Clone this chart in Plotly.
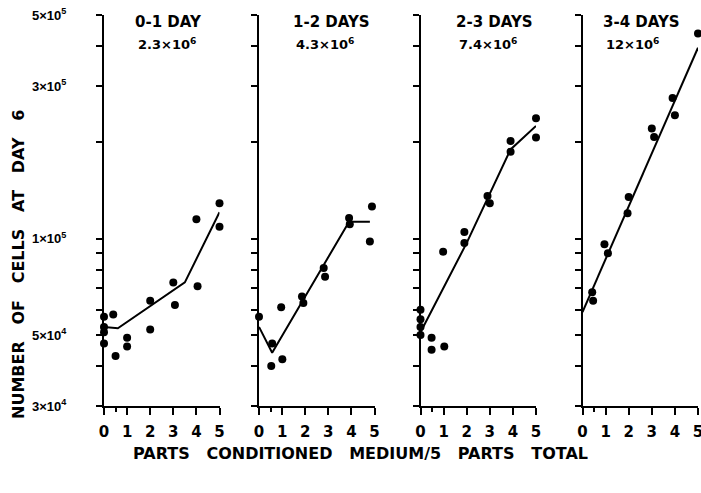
import math
import plotly.graph_objects as go

W, H = 701, 493

# ---- data ----
panel_titles = ["0-1 DAY", "1-2 DAYS", "2-3 DAYS", "3-4 DAYS"]
panel_counts = ["2.3×10<sup>6</sup>", "4.3×10<sup>6</sup>", "7.4×10<sup>6</sup>", "12×10<sup>6</sup>"]

p1_x = [0, 0, 0, 0, 0.4, 0.5, 1.0, 1.0, 2.0, 2.0, 3.0, 3.07, 4.0, 4.05, 5.0, 5.0]
p1_y = [5.7e4, 5.3e4, 5.1e4, 4.7e4, 5.8e4, 4.3e4, 4.9e4, 4.6e4, 6.4e4, 5.2e4, 7.3e4, 6.2e4, 1.15e5, 7.1e4, 1.29e5, 1.09e5]
p1_lx = [0, 0.6, 3.5, 5.0]
p1_ly = [5.3e4, 5.25e4, 7.3e4, 1.21e5]

p2_x = [0, 0.57, 0.53, 0.96, 1.01, 1.86, 1.92, 2.8, 2.86, 3.9, 3.93, 4.89, 4.8]
p2_y = [5.7e4, 4.7e4, 4.0e4, 6.1e4, 4.2e4, 6.6e4, 6.3e4, 8.1e4, 7.6e4, 1.16e5, 1.11e5, 1.26e5, 9.8e4]
p2_lx = [0, 0.57, 3.9, 4.8]
p2_ly = [5.3e4, 4.4e4, 1.13e5, 1.13e5]

p3_x = [0, 0, 0, 0, 0.48, 0.48, 1.03, 0.98, 1.9, 1.9, 2.9, 3.0, 3.9, 3.9, 5.0, 5.0]
p3_y = [6.0e4, 5.6e4, 5.3e4, 5.0e4, 4.9e4, 4.5e4, 4.6e4, 9.1e4, 1.05e5, 9.7e4, 1.36e5, 1.29e5, 2.02e5, 1.87e5, 2.38e5, 2.07e5]
p3_lx = [0, 2.0, 3.9, 5.0]
p3_ly = [5.1e4, 9.7e4, 1.9e5, 2.25e5]

p4_x = [0.42, 0.46, 0.95, 1.1, 1.95, 2.0, 3.0, 3.1, 3.9, 4.0, 5.0, 5.05]
p4_y = [6.8e4, 6.4e4, 9.6e4, 9.0e4, 1.2e5, 1.35e5, 2.21e5, 2.08e5, 2.75e5, 2.43e5, 4.38e5, 3.93e5]
p4_lx = [0, 5.0]
p4_ly = [5.9e4, 3.95e5]

y_tickvals = [3e4, 4e4, 5e4, 6e4, 7e4, 8e4, 9e4, 1e5, 2e5, 3e5, 4e5, 5e5]
y_ticktext = ["3×10<sup>4</sup>", "", "5×10<sup>4</sup>", "", "", "", "", "1×10<sup>5</sup>",
              "", "3×10<sup>5</sup>", "", "5×10<sup>5</sup>"]
x_tickvals = [0, 1, 2, 3, 4, 5]
x_ticktext = ["0", "1", "2", "3", "4", "5"]

panels = [(p1_x, p1_y, p1_lx, p1_ly), (p2_x, p2_y, p2_lx, p2_ly),
          (p3_x, p3_y, p3_lx, p3_ly), (p4_x, p4_y, p4_lx, p4_ly)]

# ---- layout geometry (pixels) ----
x_left = [104, 259, 420.5, 582.5]
x_width = 115.5
y_top, y_bot = 15, 406
title_left = [133, 291, 454, 601]

FONT = "DejaVu Sans"

fig = go.Figure()
layout = dict(
    width=W, height=H, margin=dict(l=0, r=0, t=0, b=0, autoexpand=False),
    paper_bgcolor="white", plot_bgcolor="white", showlegend=False,
    font=dict(family=FONT, color="black"),
)
annotations = []

for i, (px, py, lx, ly) in enumerate(panels):
    n = "" if i == 0 else str(i + 1)
    xa, ya = "xaxis" + n, "yaxis" + n
    fig.add_trace(go.Scatter(x=lx, y=ly, mode="lines", line=dict(color="black", width=2),
                             xaxis="x" + n, yaxis="y" + n, cliponaxis=False, hoverinfo="skip"))
    fig.add_trace(go.Scatter(x=px, y=py, mode="markers", marker=dict(color="black", size=8),
                             xaxis="x" + n, yaxis="y" + n, cliponaxis=False))
    layout[xa] = dict(
        domain=[x_left[i] / W, (x_left[i] + x_width) / W], range=[0, 5],
        anchor="y" + n, showgrid=False, zeroline=False, showline=True,
        linecolor="black", linewidth=2, ticks="outside", ticklen=7, tickwidth=2,
        tickcolor="black", tickvals=x_tickvals, ticktext=x_ticktext,
        tickfont=dict(family=FONT, size=15, weight="bold"), ticklabelstandoff=4,
        ticklabeloverflow="allow",
        minor=dict(tickvals=[0.5], ticks="outside", ticklen=4, tickwidth=2, tickcolor="black"),
        fixedrange=True, automargin=False,
    )
    layout[ya] = dict(
        domain=[1 - y_bot / H, 1 - y_top / H], type="log",
        range=[math.log10(3e4), math.log10(5e5)],
        anchor="x" + n, showgrid=False, zeroline=False, showline=True,
        linecolor="black", linewidth=2, ticks="outside", ticklen=6, tickwidth=2,
        tickcolor="black", tickvals=y_tickvals,
        ticktext=y_ticktext if i == 0 else [""] * len(y_tickvals),
        showticklabels=(i == 0), ticklabelstandoff=27,
        tickfont=dict(family="Liberation Sans", size=13, weight="bold"), fixedrange=True,
        automargin=False,
    )
    annotations.append(dict(x=title_left[i] / W, y=1 - 22 / H, xref="paper", yref="paper",
                            xanchor="left", yanchor="middle", showarrow=False,
                            text=panel_titles[i], font=dict(family=FONT, size=15, weight="bold")))
    annotations.append(dict(x=(title_left[i] + 3) / W, y=1 - 44 / H, xref="paper", yref="paper",
                            xanchor="left", yanchor="middle", showarrow=False,
                            text=panel_counts[i], font=dict(family=FONT, size=13, weight="bold")))

sp = "\u00a0\u00a0\u00a0"
annotations.append(dict(x=18 / W, y=1 - 265 / H, xref="paper", yref="paper", textangle=-90,
                        xanchor="center", yanchor="middle", showarrow=False,
                        text=sp.join(["NUMBER", "OF", "CELLS", "AT", "DAY", "6"]),
                        font=dict(family=FONT, size=16, weight="bold")))
annotations.append(dict(x=360 / W, y=1 - 453 / H, xref="paper", yref="paper",
                        xanchor="center", yanchor="middle", showarrow=False,
                        text=sp.join(["PARTS", "CONDITIONED", "MEDIUM/5", "PARTS", "TOTAL"]),
                        font=dict(family=FONT, size=16, weight="bold")))
layout["annotations"] = annotations

fig.update_layout(**layout)
fig.write_html("out.html")
